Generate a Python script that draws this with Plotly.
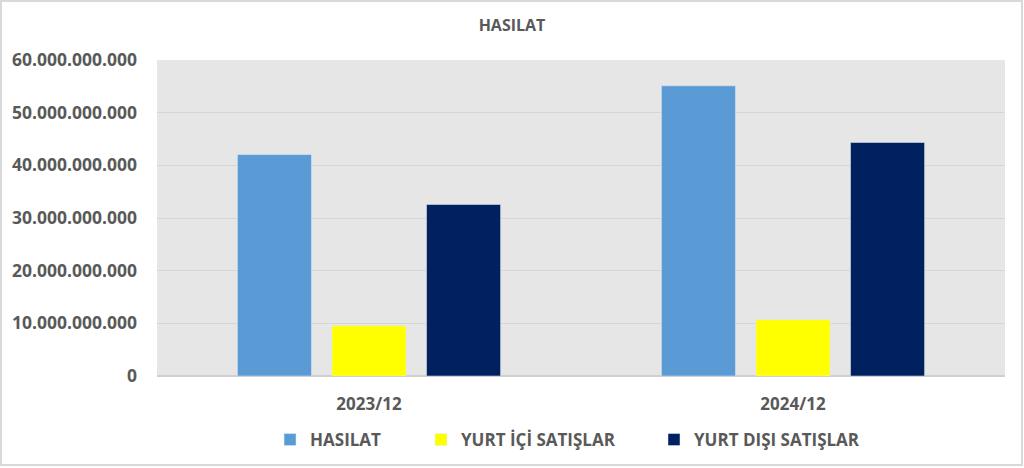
import plotly.graph_objects as go

# Dönemler ve seriler (TL)
periods = ["2023/12", "2024/12"]
hasilat = [42_050_000_000, 55_100_000_000]
yurt_ici = [9_530_000_000, 10_670_000_000]
yurt_disi = [32_560_000_000, 44_330_000_000]
y_ticks = [0, 10_000_000_000, 20_000_000_000, 30_000_000_000,
           40_000_000_000, 50_000_000_000, 60_000_000_000]

TEXT_GREY = "#595959"
FONT = "Open Sans"
legend_font = dict(family=FONT, size=17, color=TEXT_GREY, weight="bold")

fig = go.Figure()
fig.add_trace(go.Bar(name="HASILAT", x=periods, y=hasilat,
                     marker_color="#5B9BD5", legend="legend"))
fig.add_trace(go.Bar(name="YURT İÇİ SATIŞLAR", x=periods, y=yurt_ici,
                     marker_color="#FFFF00", legend="legend2"))
fig.add_trace(go.Bar(name="YURT DIŞI SATIŞLAR", x=periods, y=yurt_disi,
                     marker_color="#002060", legend="legend3"))

# one legend box per series so the spacing can follow the original
def leg(x):
    return dict(orientation="h", x=x, xanchor="left", y=-0.2025, yanchor="middle",
                font=legend_font, bgcolor="rgba(0,0,0,0)")

fig.update_layout(
    width=1024,
    height=468,
    barmode="group",
    bargap=0.331,
    bargroupgap=0.217,
    separators=",.",
    paper_bgcolor="white",
    plot_bgcolor="#E6E6E6",
    margin=dict(l=157, r=19, t=60, b=92, autoexpand=False),
    font=dict(family=FONT, color=TEXT_GREY, size=17, weight="bold"),
    title=dict(text="HASILAT", x=0.5, xref="container", xanchor="center",
               y=0.945, yanchor="middle",
               font=dict(family=FONT, size=16, color=TEXT_GREY, weight="bold")),
    legend=leg(0.1333),
    legend2=leg(0.3113),
    legend3=leg(0.5861),
    showlegend=True,
)

fig.update_yaxes(
    range=[0, 60_000_000_000],
    tickvals=y_ticks,
    tickformat=",d",
    tickfont=dict(size=17.5),
    showgrid=True,
    gridcolor="#D6D6D6",
    gridwidth=1,
    zeroline=True,
    zerolinecolor="#CFCFCF",
    zerolinewidth=2,
    ticklabelstandoff=19,
    automargin=False,
    fixedrange=True,
)
fig.update_xaxes(
    showgrid=False,
    tickfont=dict(size=17),
    ticklabelstandoff=16,
    automargin=False,
    fixedrange=True,
)

# outer light frame like the original chart area
fig.add_shape(type="rect", xref="paper", yref="paper",
              x0=-156 / 848, x1=1 + 17 / 848, y0=-89 / 316, y1=1 + 59 / 316,
              line=dict(color="#D9D9D9", width=2), fillcolor="rgba(0,0,0,0)", layer="below")

fig.write_html("out.html", config={"displayModeBar": False},
               post_script="document.body.style.margin='0';")
